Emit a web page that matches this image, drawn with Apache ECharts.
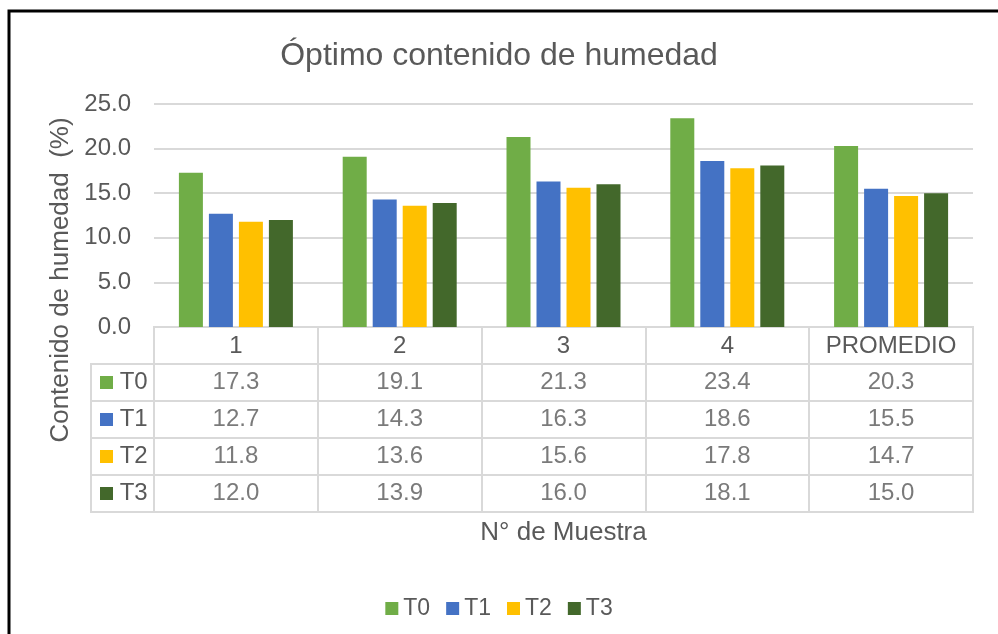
<!DOCTYPE html>
<html>

<head>
    <meta charset="utf-8">
    <title>Optimo contenido de humedad</title>
    <script src="https://cdn.jsdelivr.net/npm/echarts@6/dist/echarts.min.js"></script>
</head>

<body style="margin:0;background:#fff">
    <div id="main" style="width: 998px;height:634px;"></div>
    <script type="text/javascript">

        var muestras = ['1', '2', '3', '4', 'PROMEDIO'];      // N° de muestra
        var tratamientos = ['T0', 'T1', 'T2', 'T3'];
        var t0 = [17.3, 19.1, 21.3, 23.4, 20.3];
        var t1 = [12.7, 14.3, 16.3, 18.6, 15.5];
        var t2 = [11.8, 13.6, 15.6, 17.8, 14.7];
        var t3 = [12.0, 13.9, 16.0, 18.1, 15.0];

        var valores = [t0, t1, t2, t3];
        var colores = ['#70ad47', '#4472c4', '#ffc000', '#43682b'];
        var gris = '#d9d9d9';
        var texto = '#595959';
        var fuente = 'Liberation Sans';

        var myChart = echarts.init(document.getElementById('main'));

        // bars
        var series = [];
        tratamientos.forEach(function (t, s) {
            series.push({
                name: t,
                type: 'bar',
                xAxisIndex: 0,
                yAxisIndex: 0,
                barWidth: 24,
                barGap: '25%',
                itemStyle: { color: colores[s] },
                data: valores[s]
            });
        });

        // cell texts of the data table
        tratamientos.forEach(function (t, s) {
            series.push({
                name: 'tabla ' + t,
                type: 'scatter',
                xAxisIndex: 1,
                yAxisIndex: 1,
                symbolSize: 1,
                silent: true,
                itemStyle: { color: 'rgba(0,0,0,0)' },
                label: {
                    show: true,
                    position: 'inside',
                    color: texto,
                    fontFamily: fuente,
                    fontSize: 24,
                    formatter: function (p) { return p.value[2].toFixed(1); }
                },
                data: valores[s].map(function (v, i) { return [i, s + 1, v]; })
            });
        });

        var rich = {};
        colores.forEach(function (c, i) {
            rich['c' + i] = { backgroundColor: c, width: 13, height: 13 };
        });

        var option = {
            backgroundColor: '#fff',
            textStyle: { fontFamily: fuente },
            title: {
                text: 'Óptimo contenido de humedad',
                left: 'center',
                top: 35,
                textStyle: { color: texto, fontSize: 32, fontWeight: 'normal', fontFamily: fuente }
            },
            legend: {
                data: tratamientos,
                left: 'center',
                top: 592,
                icon: 'rect',
                itemWidth: 13,
                itemHeight: 13,
                itemGap: 16,
                textStyle: { color: texto, fontSize: 23, fontFamily: fuente }
            },
            grid: [
                { left: 154, right: 25, top: 104, height: 223 },
                { left: 154, right: 25, top: 327, height: 185, show: true, borderColor: gris, borderWidth: 2 },
                { left: 91, width: 63, top: 364, height: 148, show: true, borderColor: gris, borderWidth: 2 }
            ],
            xAxis: [
                {
                    type: 'category', gridIndex: 0, data: muestras,
                    axisLine: { lineStyle: { color: gris, width: 2 } },
                    axisTick: { show: false },
                    axisLabel: {
                        interval: 0, color: texto, fontSize: 24, margin: 19,
                        verticalAlign: 'middle', fontFamily: fuente
                    }
                },
                {
                    type: 'category', gridIndex: 1, data: muestras,
                    axisLine: { show: false }, axisTick: { show: false }, axisLabel: { show: false },
                    splitLine: { show: true, interval: 0, lineStyle: { color: gris, width: 2 } },
                    name: 'N° de Muestra', nameLocation: 'middle', nameGap: 21,
                    nameTextStyle: { color: texto, fontSize: 26, verticalAlign: 'middle', fontFamily: fuente }
                },
                { type: 'value', gridIndex: 2, show: false }
            ],
            yAxis: [
                {
                    type: 'value', gridIndex: 0, min: 0, max: 25, interval: 5,
                    axisLine: { show: false }, axisTick: { show: false },
                    splitLine: { lineStyle: { color: gris, width: 2 } },
                    axisLabel: {
                        color: texto, fontSize: 24, margin: 23, fontFamily: fuente,
                        formatter: function (v) { return v.toFixed(1); }
                    }
                },
                {
                    type: 'category', gridIndex: 1, inverse: true, data: [''].concat(tratamientos),
                    axisLine: { show: false }, axisTick: { show: false }, axisLabel: { show: false },
                    splitLine: { show: true, interval: 0, lineStyle: { color: gris, width: 2 } }
                },
                {
                    type: 'category', gridIndex: 2, inverse: true, data: tratamientos,
                    axisLine: { show: false }, axisTick: { show: false },
                    splitLine: { show: true, interval: 0, lineStyle: { color: gris, width: 2 } },
                    axisLabel: {
                        interval: 0, inside: true, margin: 9, color: texto, fontSize: 24, fontFamily: fuente,
                        formatter: function (v, i) { return '{c' + i + '|} ' + v; },
                        rich: rich
                    }
                }
            ],
            graphic: [
                {
                    type: 'rect',
                    shape: { x: 9, y: 11, width: 1200, height: 800 },
                    style: { fill: 'none', stroke: '#000', lineWidth: 3 },
                    silent: true
                },
                {
                    type: 'text',
                    x: 61, y: 280,
                    rotation: Math.PI / 2,
                    style: {
                        text: 'Contenido de humedad  (%)',
                        fill: texto, fontSize: 26, fontFamily: fuente,
                        align: 'center', verticalAlign: 'middle'
                    }
                }
            ],
            series: series
        };
        myChart.setOption(option);
    </script>
</body>

</html>
